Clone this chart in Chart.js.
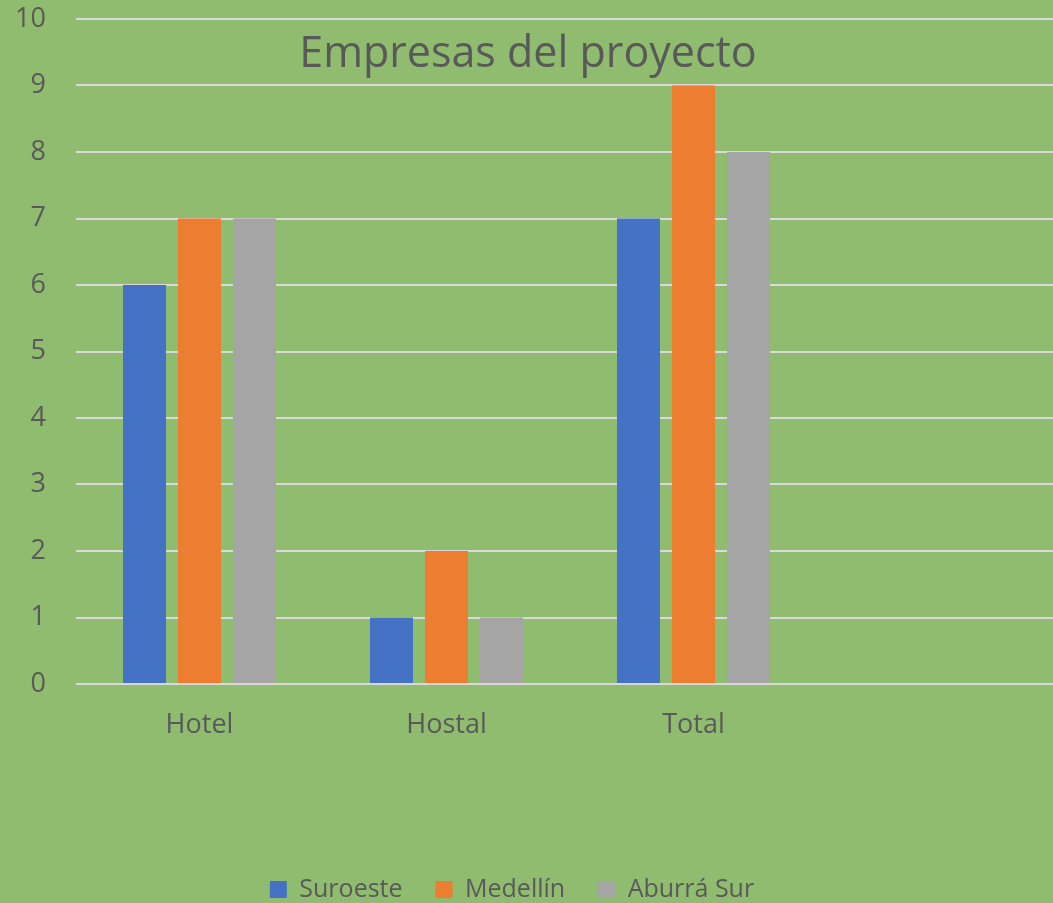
<!DOCTYPE html>
<html>
<head>
<meta charset="utf-8">
<script src="https://cdn.jsdelivr.net/npm/chart.js@4"></script>
<style>
  html, body { margin: 0; padding: 0; overflow: hidden; background: #8fbc6f; width: 1053px; height: 903px; }
  canvas { display: block; }
</style>
</head>
<body>
<canvas id="c" width="1064" height="912"></canvas>
<script>
// ---- data ----
const categories = ['Hotel', 'Hostal', 'Total', ''];
const seriesNames = ['Suroeste', 'Medellín', 'Aburrá Sur'];
const suroeste = [6, 1, 7, null];
const medellin = [7, 2, 9, null];
const aburraSur = [7, 1, 8, null];
const yTickValues = [0, 1, 2, 3, 4, 5, 6, 7, 8, 9, 10];
const chartTitle = 'Empresas del proyecto';

// ---- style ----
const BG = '#8fbc6f';
const TEXT = '#595959';
const GRID = '#d9d9d9';
const COLORS = ['#4472c4', '#ed7d31', '#a5a5a5'];
const FONT = 'Open Sans';

const bgPlugin = {
  id: 'bg',
  beforeDraw(chart) {
    const ctx = chart.ctx;
    ctx.save();
    ctx.fillStyle = BG;
    ctx.fillRect(0, 0, chart.width, chart.height);
    ctx.restore();
  }
};
const titlePlugin = {
  id: 'innerTitle',
  afterDraw(chart) {
    const ctx = chart.ctx;
    ctx.save();
    ctx.fillStyle = TEXT;
    ctx.font = '43px "' + FONT + '"';
    ctx.textAlign = 'center';
    ctx.textBaseline = 'alphabetic';
    ctx.fillText(chartTitle, 528, 67);
    ctx.restore();
  }
};
const shiftPlugin = {
  id: 'shift',
  afterLayout(chart) {
    const lg = chart.legend;
    if (lg) { lg.left -= 20; lg.right -= 20; }
  }
};

new Chart(document.getElementById('c'), {
  type: 'bar',
  data: {
    labels: categories,
    datasets: [
      { label: seriesNames[0], data: suroeste, backgroundColor: COLORS[0] },
      { label: seriesNames[1], data: medellin, backgroundColor: COLORS[1] },
      { label: seriesNames[2], data: aburraSur, backgroundColor: COLORS[2] }
    ]
  },
  options: {
    responsive: false,
    animation: false,
    categoryPercentage: 0.668,
    barPercentage: 0.782,
    layout: { padding: { top: 19, left: 0, right: 0, bottom: 0 } },
    plugins: {
      tooltip: { enabled: false },
      title: { display: false },
      legend: {
        position: 'bottom',
        labels: {
          color: TEXT,
          font: { family: FONT, size: 25 },
          boxWidth: 17,
          boxHeight: 17,
          padding: 33
        }
      }
    },
    scales: {
      x: {
        grid: { display: false, drawTicks: false },
        border: { display: false },
        ticks: { color: TEXT, font: { family: FONT, size: 27 }, padding: 25, maxRotation: 0 },
        afterFit(s) { s.height = 160; }
      },
      y: {
        min: yTickValues[0],
        max: yTickValues[yTickValues.length - 1],
        afterBuildTicks(s) { s.ticks = yTickValues.map(v => ({ value: v })); },
        grid: { color: GRID, lineWidth: 2, drawTicks: false },
        border: { display: false },
        ticks: { color: TEXT, font: { family: FONT, size: 27 }, padding: 30 },
        afterFit(s) { s.width = 76; s.paddingTop = 0; s.paddingBottom = 0; }
      }
    }
  },
  plugins: [bgPlugin, titlePlugin, shiftPlugin]
});
</script>
</body>
</html>
